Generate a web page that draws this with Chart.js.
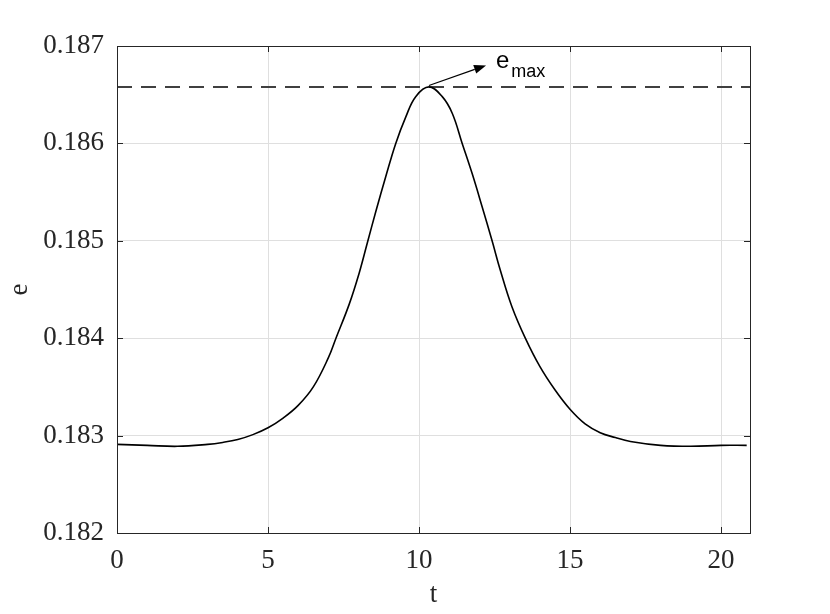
<!DOCTYPE html>
<html><head><meta charset="utf-8">
<script src="https://cdn.jsdelivr.net/npm/chart.js@4.4.1/dist/chart.umd.min.js"></script>
<style>html,body{margin:0;padding:0;background:#fff}#wrap{width:830px;height:614px}</style>
</head><body><div id="wrap"><canvas id="c" width="830" height="614"></canvas></div>
<script>
// ---- data ----
const tValues = [0, 1, 2, 3, 3.5, 4, 4.5, 5, 5.5, 6, 6.5, 7, 7.25, 7.69, 8.02, 8.29, 8.57, 8.90, 9.23, 9.56, 9.89, 10.33,
                 10.77, 11.10, 11.43, 11.76, 12.09, 12.42, 12.69, 13.08, 13.52, 14, 14.5, 15, 15.5, 16, 16.5, 17, 18, 19, 20, 20.85];
const eValues = [0.18291, 0.18290, 0.18289, 0.18291, 0.18293, 0.18296, 0.18301, 0.18308, 0.18318, 0.18331, 0.18350, 0.18380, 0.18400, 0.18435, 0.18467, 0.18498, 0.18530, 0.18566, 0.18600, 0.18627, 0.18648, 0.18658,
                 0.18648, 0.18631, 0.18600, 0.18569, 0.18535, 0.18500, 0.18470, 0.18432, 0.18400, 0.18371, 0.18347, 0.18327, 0.18312, 0.18303, 0.18298, 0.18294, 0.18290, 0.18289, 0.18290, 0.18290];
const eMax = 0.18658;
const xRange = [0, 20.96];
const yRange = [0.182, 0.187];
const xTickStep = 5;
const yTickStep = 0.001;
const arrowFrom = [10.33, 0.186595];
const arrowTo = [12.22, 0.186801];
const labelAt = [12.55, 0.18677];
const labelMain = 'e';
const labelSub = 'max';
const xTitle = 't';
const yTitle = 'e';

const curve = tValues.map((t, i) => ({x: t, y: eValues[i]}));
const maxLine = xRange.map(t => ({x: t, y: eMax}));

const AX = '#262626';
const serif = "'Liberation Serif', 'Times New Roman', serif";

const framePlugin = {
  id: 'frame',
  afterDatasetsDraw(chart) {
    const {ctx, chartArea: a, scales: {x, y}} = chart;
    ctx.save();
    ctx.strokeStyle = AX;
    ctx.lineWidth = 1;
    const L = 6;
    ctx.beginPath();
    x.ticks.forEach(tk => {
      const px = Math.round(x.getPixelForValue(tk.value)) + 0.5;
      ctx.moveTo(px, a.bottom); ctx.lineTo(px, a.bottom - L);
      ctx.moveTo(px, a.top); ctx.lineTo(px, a.top + L);
    });
    y.ticks.forEach(tk => {
      const py = Math.round(y.getPixelForValue(tk.value)) + 0.5;
      ctx.moveTo(a.left, py); ctx.lineTo(a.left + L, py);
      ctx.moveTo(a.right, py); ctx.lineTo(a.right - L, py);
    });
    ctx.stroke();
    ctx.strokeRect(Math.round(a.left) + 0.5, Math.round(a.top) + 0.5, Math.round(a.right - a.left), Math.round(a.bottom - a.top));

    // arrow
    const x0 = x.getPixelForValue(arrowFrom[0]), y0 = y.getPixelForValue(arrowFrom[1]);
    const x1 = x.getPixelForValue(arrowTo[0]), y1 = y.getPixelForValue(arrowTo[1]);
    const ang = Math.atan2(y1 - y0, x1 - x0);
    const hl = 12, hw = 4.5;
    ctx.strokeStyle = '#000';
    ctx.fillStyle = '#000';
    ctx.lineWidth = 1.2;
    ctx.beginPath();
    ctx.moveTo(x0, y0);
    ctx.lineTo(x1 - hl * Math.cos(ang), y1 - hl * Math.sin(ang));
    ctx.stroke();
    ctx.beginPath();
    ctx.moveTo(x1, y1);
    ctx.lineTo(x1 - hl * Math.cos(ang) - hw * Math.sin(ang), y1 - hl * Math.sin(ang) + hw * Math.cos(ang));
    ctx.lineTo(x1 - hl * Math.cos(ang) + hw * Math.sin(ang), y1 - hl * Math.sin(ang) - hw * Math.cos(ang));
    ctx.closePath();
    ctx.fill();

    // label
    const lx = x.getPixelForValue(labelAt[0]), ly = y.getPixelForValue(labelAt[1]);
    ctx.textBaseline = 'alphabetic';
    ctx.textAlign = 'left';
    ctx.font = "24px 'Liberation Sans', Arial, sans-serif";
    ctx.fillText(labelMain, lx, ly);
    const w = ctx.measureText(labelMain).width;
    ctx.font = "18px 'Liberation Sans', Arial, sans-serif";
    ctx.fillText(labelSub, lx + w + 2, ly + 9);
    ctx.restore();
  }
};

new Chart(document.getElementById('c'), {
  type: 'line',
  data: {
    datasets: [
      {data: curve, borderColor: '#000', borderWidth: 1.6, pointRadius: 0, tension: 0.4, fill: false},
      {data: maxLine, borderColor: '#404040', borderWidth: 2, borderDash: [15, 9], pointRadius: 0, fill: false}
    ]
  },
  options: {
    responsive: false,
    animation: false,
    events: [],
    layout: {padding: {top: 46, right: 80, left: 0, bottom: 0}},
    plugins: {legend: {display: false}, tooltip: {enabled: false}},
    scales: {
      x: {
        type: 'linear', min: xRange[0], max: xRange[1],
        afterFit(s) { s.height = 81; },
        ticks: {stepSize: xTickStep, includeBounds: false, color: AX, font: {family: serif, size: 27}, padding: 12, maxRotation: 0,
                callback: v => String(v)},
        grid: {color: '#dfdfdf', lineWidth: 1, drawTicks: false},
        border: {color: AX, width: 1},
        title: {display: true, text: xTitle, color: AX, font: {family: serif, size: 27}, padding: {top: 0, bottom: 3}}
      },
      y: {
        type: 'linear', min: yRange[0], max: yRange[1],
        afterFit(s) { s.width = 117; },
        ticks: {stepSize: yTickStep, color: AX, font: {family: serif, size: 27}, padding: 13,
                callback: v => v.toFixed(3)},
        grid: {color: '#dfdfdf', lineWidth: 1, drawTicks: false},
        border: {color: AX, width: 1},
        title: {display: true, text: yTitle, color: AX, font: {family: serif, size: 27}, padding: {top: 4, bottom: 0}}
      }
    }
  },
  plugins: [framePlugin]
});
</script>
</body></html>
